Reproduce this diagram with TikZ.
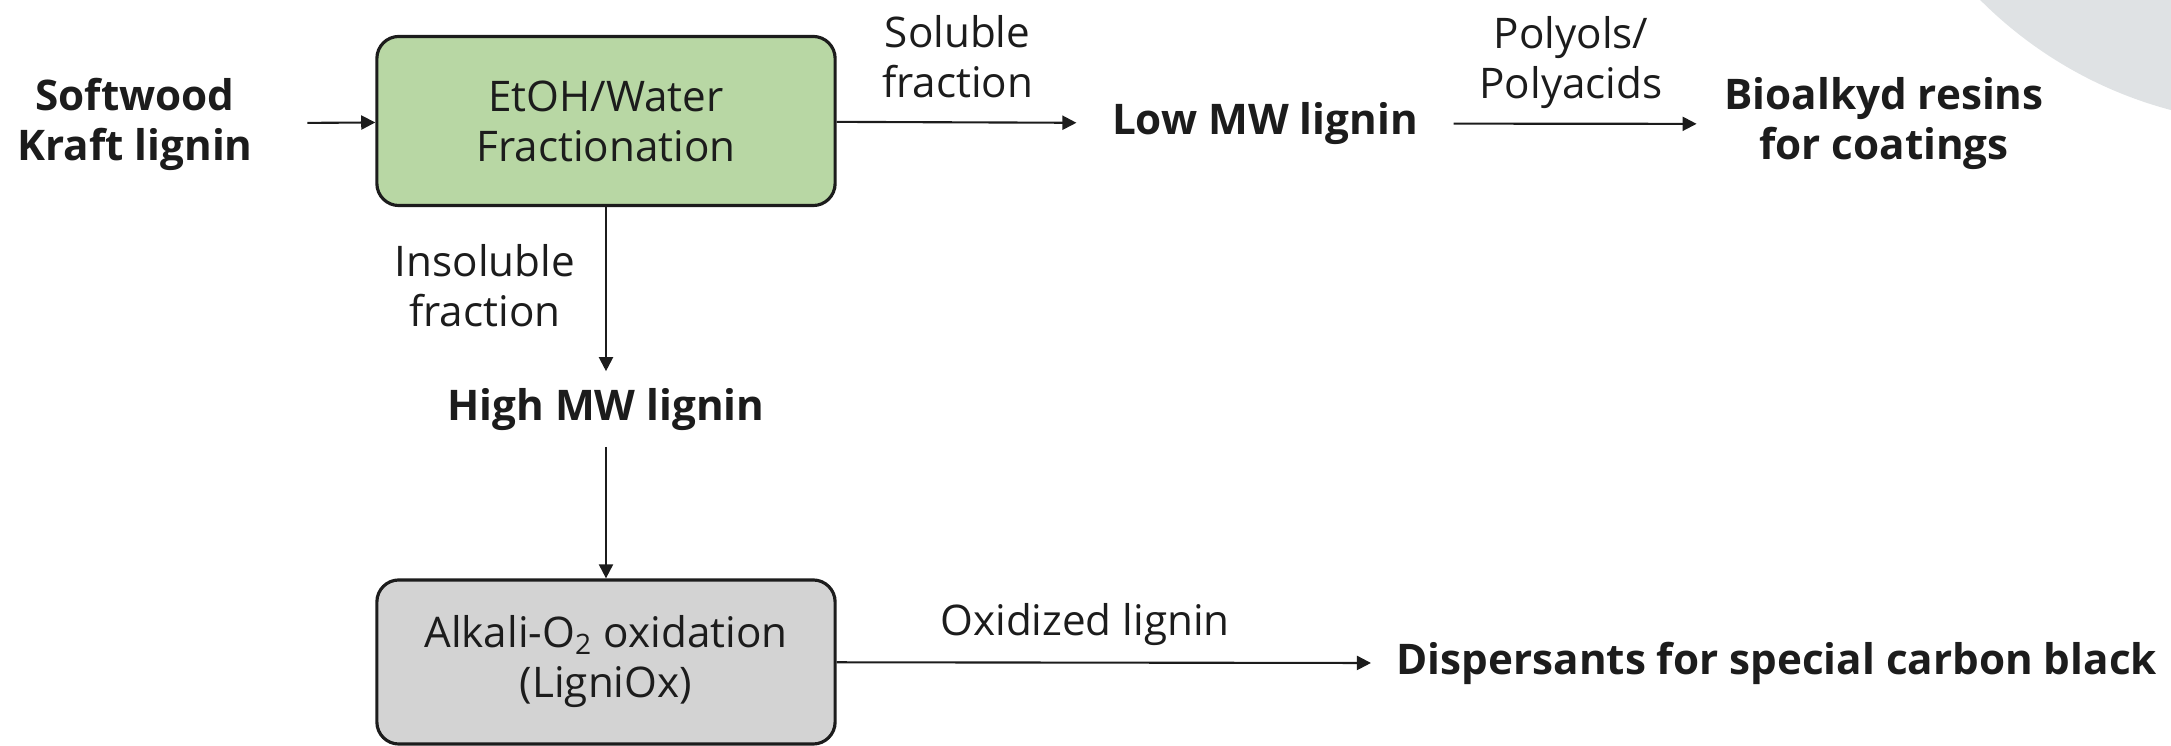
\documentclass[tikz,border=0pt]{standalone}
\usepackage{fontspec}
\setmainfont{Open Sans}
\usetikzlibrary{arrows.meta}

\definecolor{fracgreen}{HTML}{B8D7A4}
\definecolor{oxgray}{HTML}{D3D3D3}
\definecolor{cornergray}{HTML}{DFE2E4}
\definecolor{inkblack}{HTML}{1C1C1C}

\newcommand{\flowsize}{\fontsize{12}{14.2}\selectfont}

\tikzset{
	procbox/.style={draw=inkblack, line width=0.9pt, rounded corners=0.22cm, align=center,
		minimum width=4.58cm, text=inkblack, font=\flowsize},
	product/.style={font=\flowsize\bfseries, align=center, inner sep=0pt, text=inkblack},
	flowlabel/.style={font=\flowsize, align=center, inner sep=0pt, text=inkblack},
	flow/.style={draw=inkblack, line width=0.6pt, -{Triangle[length=4pt, width=4pt]}}
}

\begin{document}
\begin{tikzpicture}[x=0.01cm, y=-0.01cm]
		\useasboundingbox (0, 0) rectangle (2171, 746);
		\begin{scope}
			\clip (0, 0) rectangle (2171, 746);
			\fill [cornergray] (2279, -298) circle (422);
		\end{scope}

		\node [procbox, fill=fracgreen, minimum height=1.69cm] (frac) at (606, 121) {EtOH/Water\\Fractionation};
		\node [procbox, fill=oxgray, minimum height=1.64cm] (ox) at (606, 662) {Alkali-O\textsubscript{2} oxidation\\(LigniOx)};

		\node [product] (kraft) at (135, 124) {Softwood\\Kraft lignin};
		\node [product] (low) at (1265, 123.5) {Low MW lignin};
		\node [product] (bio) at (1884, 124) {Bioalkyd resins\\for coatings};
		\node [product] (high) at (606, 409.5) {High MW lignin};
		\node [product, anchor=west] (disp) at (1396, 663.5) {Dispersants for special carbon black};

		\draw [flow, shorten <=0.54cm] (kraft) -- (frac);
		\draw [flow, shorten >=0.35cm] (frac) -- node [flowlabel, pos=0.44, above=0.23cm] {Soluble\\fraction} (low);
		\draw [flow, shorten <=0.35cm, shorten >=0.27cm] (low) -- node [flowlabel, pos=0.5, above=0.14cm] {Polyols/\\Polyacids} (bio);
		\draw [flow, shorten >=0.165cm] (frac) -- node [flowlabel, pos=0.435, left=0.3cm] {Insoluble\\fraction} (high);
		\draw [flow, shorten <=0.155cm] (high) -- (ox);
		\draw [flow, shorten >=0.25cm] (ox) -- node [flowlabel, pos=0.444, above=0.16cm] {Oxidized lignin} (disp);
	\end{tikzpicture}
\end{document}
